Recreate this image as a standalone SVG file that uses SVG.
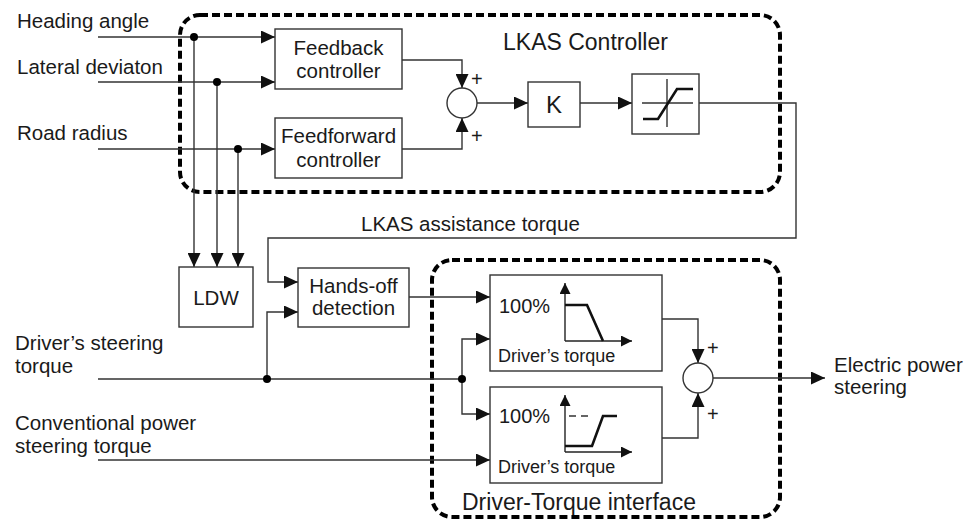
<svg xmlns="http://www.w3.org/2000/svg" width="976" height="522" viewBox="0 0 976 522">
<defs>
<marker id="arr" markerUnits="userSpaceOnUse" markerWidth="15" markerHeight="13" refX="14" refY="6.5" orient="auto"><path d="M0,0 L14,6.5 L0,13 z" fill="#111"/></marker>
<marker id="arrs" markerUnits="userSpaceOnUse" markerWidth="12" markerHeight="11" refX="11" refY="5.5" orient="auto"><path d="M0,0 L11,5.5 L0,11 z" fill="#111"/></marker>
<style>
text{font-family:"Liberation Sans",Arial,sans-serif;fill:#1a1a1a}
.t{font-size:20.5px}
.title{font-size:23px}
.small{font-size:18px}
.pct{font-size:20px}
.plus{font-size:20px}
.box{fill:#fff;stroke:#333;stroke-width:1.4}
.dash{fill:none;stroke:#000;stroke-width:4;stroke-dasharray:8 4}
.w{fill:none;stroke:#333;stroke-width:1.4}
.wa{fill:none;stroke:#333;stroke-width:1.4;marker-end:url(#arr)}
.ax{fill:none;stroke:#222;stroke-width:1.4;marker-end:url(#arrs)}
.curve{fill:none;stroke:#111;stroke-width:2.6}
.dot{fill:#000}
</style>
</defs>
<rect width="976" height="522" fill="#fff"/>

<g id="lkas-controller-frame">
<rect class="dash" x="180" y="15" width="600" height="177" rx="20"/>
<text class="title" x="503" y="50">LKAS Controller</text>
</g>
<g id="driver-torque-frame">
<rect class="dash" x="432" y="260" width="348" height="257" rx="20"/>
<text class="title" x="462" y="510">Driver-Torque interface</text>
</g>

<g id="connectors">
<path class="wa" d="M98,37 H275"/>
<path class="wa" d="M98,82 H275"/>
<path class="wa" d="M98,149 H275"/>
<path class="wa" d="M194,37 V267"/>
<path class="wa" d="M217,82 V267"/>
<path class="wa" d="M238,149 V267"/>
<path class="wa" d="M402,60 H462 V88"/>
<path class="wa" d="M402,149 H462 V118"/>
<path class="wa" d="M477,103 H528"/>
<path class="wa" d="M580,103 H632"/>
<path class="wa" d="M699,103 H796 V238 H268 V282 H298"/>
<path class="wa" d="M98,379 H462 V339 H490"/>
<path class="wa" d="M462,379 V414 H490"/>
<path class="wa" d="M267,379 V312 H298"/>
<path class="wa" d="M409,297 H490"/>
<path class="wa" d="M98,460 H490"/>
<path class="wa" d="M662,319 H698 V363"/>
<path class="wa" d="M662,438 H698 V393"/>
<path class="wa" d="M713,378 H825"/>
<circle class="dot" cx="194" cy="37" r="4"/>
<circle class="dot" cx="217" cy="82" r="4"/>
<circle class="dot" cx="238" cy="149" r="4"/>
<circle class="dot" cx="267" cy="379" r="4"/>
<circle class="dot" cx="462" cy="379" r="4"/>
<text class="t" x="361" y="231">LKAS assistance torque</text>
</g>

<g id="inputs">
<text class="t" x="17" y="28">Heading angle</text>
<text class="t" x="17" y="74">Lateral deviaton</text>
<text class="t" x="17" y="140">Road radius</text>
<text class="t" x="15" y="350">Driver’s steering</text>
<text class="t" x="15" y="373">torque</text>
<text class="t" x="15" y="430">Conventional power</text>
<text class="t" x="15" y="453">steering torque</text>
</g>

<g id="feedback-controller">
<rect class="box" x="275" y="29" width="127" height="60"/>
<text class="t" x="338.5" y="55" text-anchor="middle">Feedback</text>
<text class="t" x="338.5" y="78" text-anchor="middle">controller</text>
</g>
<g id="feedforward-controller">
<rect class="box" x="275" y="118" width="127" height="60"/>
<text class="t" x="338.5" y="143" text-anchor="middle">Feedforward</text>
<text class="t" x="338.5" y="167" text-anchor="middle">controller</text>
</g>
<g id="sum1">
<circle class="box" cx="462" cy="103" r="15"/>
<text class="plus" x="471" y="86">+</text>
<text class="plus" x="471" y="143">+</text>
</g>
<g id="gain-k">
<rect class="box" x="528" y="82" width="52" height="45"/>
<text x="554" y="113" text-anchor="middle" style="font-size:24px">K</text>
</g>
<g id="saturation">
<rect class="box" x="632" y="74" width="67" height="60"/>
<path class="w" d="M667,79 V127 M642,103 H693"/>
<path class="curve" d="M643,119 H658 L677,89 H693"/>
</g>
<g id="ldw">
<rect class="box" x="179" y="267" width="74" height="60"/>
<text class="t" x="216" y="305" text-anchor="middle">LDW</text>
</g>
<g id="hands-off-detection">
<rect class="box" x="298" y="268" width="111" height="59"/>
<text class="t" x="353.5" y="293" text-anchor="middle">Hands-off</text>
<text class="t" x="353.5" y="315" text-anchor="middle">detection</text>
</g>
<g id="lkas-gain-map">
<rect class="box" x="490" y="275" width="172" height="96"/>
<text class="pct" x="499" y="313">100%</text>
<path class="ax" d="M565,341 V283"/>
<path class="ax" d="M565,341 H632"/>
<path class="curve" d="M565,305 H587 L603,341"/>
<text class="small" x="498" y="362">Driver’s torque</text>
</g>
<g id="driver-gain-map">
<rect class="box" x="490" y="387" width="172" height="96"/>
<text class="pct" x="499" y="423">100%</text>
<path class="ax" d="M565,452 V395"/>
<path class="ax" d="M565,452 H632"/>
<path class="w" d="M569,416 H576 M581,416 H588"/>
<path class="curve" d="M565,446 H592 L603,416 H617"/>
<text class="small" x="498" y="473">Driver’s torque</text>
</g>
<g id="sum2">
<circle class="box" cx="698" cy="378" r="15"/>
<text class="plus" x="707" y="355">+</text>
<text class="plus" x="707" y="421">+</text>
</g>
<g id="output">
<text class="t" x="834" y="372">Electric power</text>
<text class="t" x="834" y="394">steering</text>
</g>
</svg>
